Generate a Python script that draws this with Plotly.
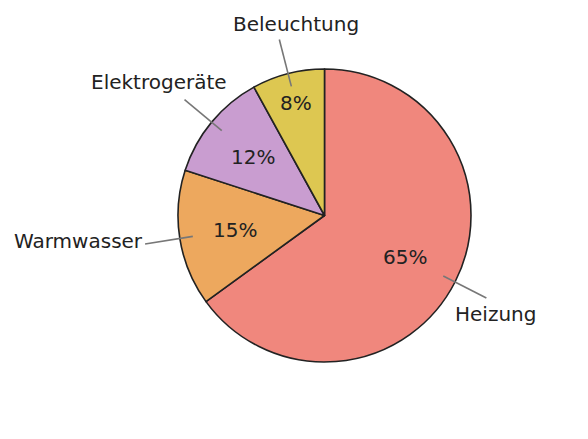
import numpy as np
import plotly.graph_objects as go

# data
labels = ['Heizung', 'Warmwasser', 'Elektrogeräte', 'Beleuchtung']
values = [65, 15, 12, 8]
colors = ['#F0877D', '#EDA85E', '#C99DD0', '#DDC751']

# label placement (fraction of radius / degrees) - tuned by eye
label_dist = [1.35, 1.69, 1.45, 1.32]
label_shift = [-3.0, -3.0, 0.7, -5.8]
pct_dist = [0.62, 0.62, 0.63, 0.79]
line_r0, line_r1 = 0.91, 1.24

W, H = 588, 439
OFF = 8  # page body margin
CX, CY, R = 324.5 - OFF, 215.5 - OFF, 146.5

fig = go.Figure()
fig.add_trace(go.Pie(
    labels=labels, values=values, sort=False, direction='clockwise', rotation=0,
    marker=dict(colors=colors, line=dict(color='#222222', width=1.6)),
    textinfo='none', hoverinfo='label+percent', showlegend=False,
    domain=dict(x=[(CX - R) / W, (CX + R) / W], y=[1 - (CY + R) / H, 1 - (CY - R) / H]),
))

vals = np.array(values, dtype=float)
frac = vals / vals.sum()
mid = np.cumsum(frac) - frac / 2
ang = np.deg2rad(90 - 360 * mid)


def to_paper(r, a):
    return (CX + r * R * np.cos(a)) / W, 1 - (CY - r * R * np.sin(a)) / H


font = dict(family='DejaVu Sans', size=20, color='#222222')
for i, lab in enumerate(labels):
    # percent inside the slice
    px, py = to_paper(pct_dist[i], ang[i])
    fig.add_annotation(x=px, y=py, xref='paper', yref='paper',
                       xanchor='center', yanchor='middle',
                       text=f'{frac[i]*100:.0f}%', showarrow=False, font=font)
    # radial leader line
    x0, y0 = to_paper(line_r0, ang[i])
    x1, y1 = to_paper(line_r1, ang[i])
    fig.add_shape(type='line', xref='paper', yref='paper', x0=x0, y0=y0, x1=x1, y1=y1,
                  line=dict(color='#777777', width=1.6))
    # outside label
    lx, ly = to_paper(label_dist[i], ang[i] + np.deg2rad(label_shift[i]))
    fig.add_annotation(x=lx, y=ly, xref='paper', yref='paper',
                       xanchor='center', yanchor='middle',
                       text=lab, showarrow=False, font=font)

fig.update_layout(width=W, height=H, margin=dict(l=0, r=0, t=0, b=0),
                  paper_bgcolor='white', plot_bgcolor='white')

fig.write_html("out.html")
